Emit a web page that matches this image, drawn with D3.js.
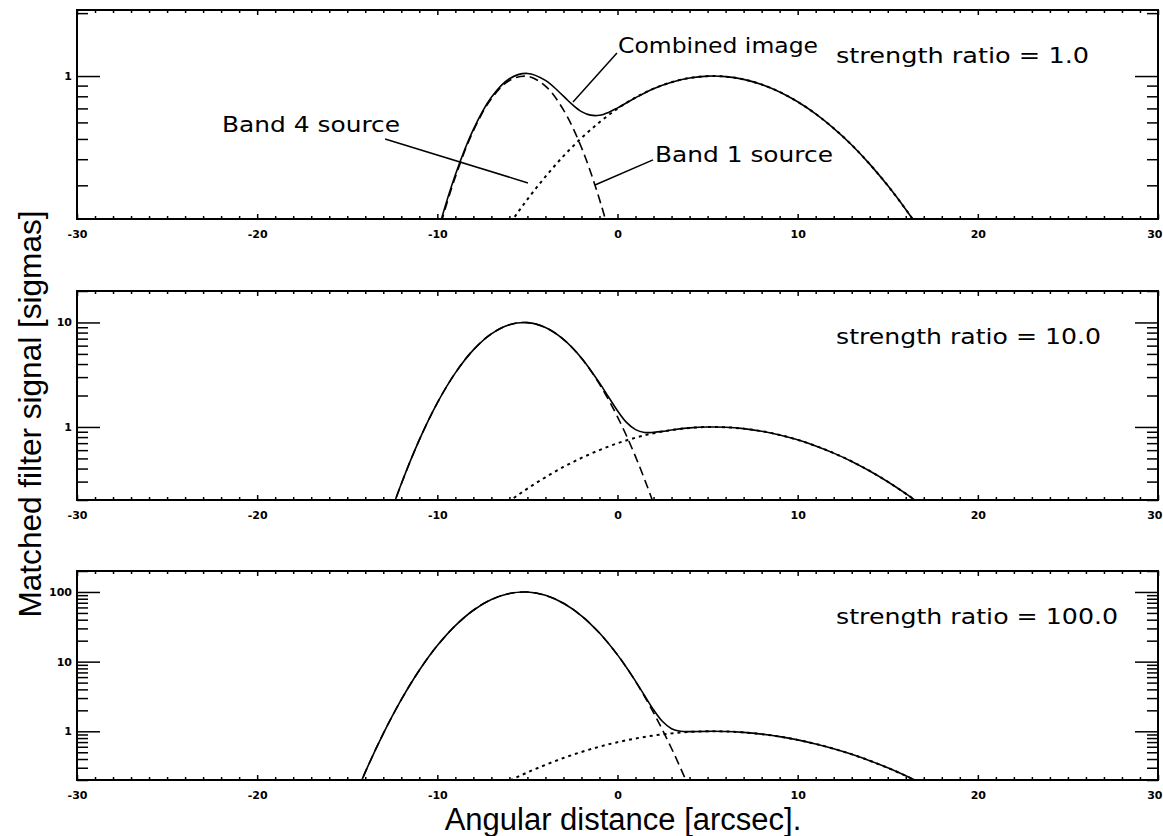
<!DOCTYPE html>
<html>
<head>
<meta charset="utf-8">
<script src="https://cdn.jsdelivr.net/npm/d3@7"></script>
<style>
  body { margin: 0; background: #fff; }
  svg { display: block; }
  .tick text { font-family: "DejaVu Sans", sans-serif; font-weight: bold; font-size: 11px; fill: #000; }
  .tick line { stroke: #000; stroke-width: 1.5; }
</style>
</head>
<body>
<svg id="chart" width="1163" height="836"></svg>
<script>
// ---- data -------------------------------------------------------------
// Angular distance axis [arcsec]
const xDomain = [-30, 30];
const xMajorTicks = [-30, -20, -10, 0, 10, 20, 30];

// Strength ratio of the Band 4 source relative to the Band 1 source, one per panel
const ratios = [1.0, 10.0, 100.0];
const ratioLabels = ["strength ratio = 1.0", "strength ratio = 10.0", "strength ratio = 100.0"];

// Vertical (log) ranges of the three panels [sigmas]
const yDomains = [[0.207, 2.07], [0.2, 20], [0.2, 200]];
const yLabelledTicks = [[1], [1, 10], [1, 10, 100]];

// Band 4 source profile for unit strength: [arcsec, sigmas]
const band4Unit = [
  [-15, 0.000618], [-14, 0.00259], [-13, 0.00928], [-12, 0.0285], [-11, 0.0752],
  [-10, 0.170], [-9, 0.329], [-8, 0.547], [-7, 0.779], [-6, 0.952], [-5, 0.997],
  [-4, 0.895], [-3, 0.689], [-2, 0.455], [-1, 0.257], [0, 0.125], [1, 0.0520],
  [2, 0.0185], [3, 0.00567], [4, 0.00149], [5, 0.000335]
];

// Band 1 source profile: [arcsec, sigmas]
const band1 = [
  [-7, 0.144], [-6, 0.195], [-5, 0.257], [-4, 0.330], [-3, 0.414], [-2, 0.505],
  [-1, 0.601], [0, 0.698], [1, 0.789], [2, 0.870], [3, 0.934], [4, 0.979],
  [5, 0.999], [6, 0.994], [7, 0.964], [8, 0.911], [9, 0.839], [10, 0.753],
  [11, 0.659], [12, 0.562], [13, 0.468], [14, 0.379], [15, 0.299], [16, 0.230],
  [17, 0.173], [18, 0.127]
];

// Combined image, one series per panel: [arcsec, sigmas]
const combinedRatio1 = [
  [-11, 0.0819], [-10, 0.177], [-9, 0.337], [-8, 0.556], [-7, 0.792], [-6, 0.971],
  [-5, 1.029], [-4, 0.953], [-3, 0.801], [-2.5, 0.729], [-2, 0.676], [-1.5, 0.650],
  [-1, 0.649], [-0.5, 0.670], [0, 0.704], [1, 0.787], [2, 0.870], [3, 0.934],
  [4, 0.979], [5, 0.999], [6, 0.994], [7, 0.964], [8, 0.911], [9, 0.839],
  [10, 0.753], [11, 0.659], [12, 0.562], [13, 0.468], [14, 0.379], [15, 0.299],
  [16, 0.230], [17, 0.173], [18, 0.127]
];
const combinedRatio10 = [
  [-13, 0.0937], [-12, 0.286], [-11, 0.753], [-10, 1.70], [-9, 3.29], [-8, 5.47],
  [-7, 7.79], [-6, 9.52], [-5, 9.97], [-4, 8.96], [-3, 6.90], [-2, 4.58],
  [-1, 2.64], [-0.5, 1.94], [0, 1.43], [0.5, 1.105], [1, 0.942], [1.5, 0.885],
  [2, 0.888], [2.5, 0.907], [3, 0.936], [4, 0.979], [5, 0.999], [6, 0.994],
  [7, 0.964], [8, 0.911], [9, 0.839], [10, 0.753], [11, 0.659], [12, 0.562],
  [13, 0.468], [14, 0.379], [15, 0.299], [16, 0.230], [17, 0.173], [18, 0.127]
];
const combinedRatio100 = [
  [-15, 0.0618], [-14, 0.259], [-13, 0.928], [-12, 2.85], [-11, 7.52], [-10, 17.0],
  [-9, 32.9], [-8, 54.7], [-7, 77.9], [-6, 95.2], [-5, 99.7], [-4, 89.5],
  [-3, 68.9], [-2, 45.5], [-1, 25.7], [0, 12.5], [0.5, 8.24], [1, 5.26],
  [1.5, 3.27], [2, 2.04], [2.5, 1.38], [3, 1.09], [3.5, 1.00], [4, 0.988],
  [5, 0.999], [6, 0.994], [7, 0.964], [8, 0.911], [9, 0.839], [10, 0.753],
  [11, 0.659], [12, 0.562], [13, 0.468], [14, 0.379], [15, 0.299], [16, 0.230],
  [17, 0.173], [18, 0.127]
];
const combinedSeries = [combinedRatio1, combinedRatio10, combinedRatio100];

// Callouts in the first panel, in data coordinates [arcsec, sigmas]
const callouts = [
  { text: "Combined image", at: [0.03, 1.289], from: [-0.03, 1.289], to: [-2.47, 0.751], width: 200 },
  { text: "Band 4 source", at: [-21.95, 0.540], from: [-12.90, 0.500], to: [-4.97, 0.308], width: 178 },
  { text: "Band 1 source", at: [2.08, 0.388], from: [1.97, 0.397], to: [-1.25, 0.301], width: 178 }
];

// ---- layout -----------------------------------------------------------
const svg = d3.select("#chart");
const plotLeft = 77, plotRight = 1158;
const panelTops = [10, 291, 571];
const panelHeight = 209;
const labelWidths = [253, 265, 282];

const x = d3.scaleLinear().domain(xDomain).range([plotLeft, plotRight]);
const xMinorTicks = d3.range(xDomain[0], xDomain[1] + 1, 1).filter(v => v % 10 !== 0);

const annotFont = '"DejaVu Sans", sans-serif';

function minorLogTicks(domain, majors) {
  const out = [];
  for (let e = -2; e <= 3; e++) {
    for (let m = 1; m <= 9; m++) {
      const v = m * Math.pow(10, e);
      if (v >= domain[0] * 0.999 && v <= domain[1] * 1.001 && !majors.includes(v)) out.push(v);
    }
  }
  return out;
}

panelTops.forEach((top, i) => {
  const bottom = top + panelHeight;
  const y = d3.scaleLog().domain(yDomains[i]).range([bottom, top]);
  const g = svg.append("g");

  const clipId = "clip" + i;
  svg.append("clipPath").attr("id", clipId)
    .append("rect").attr("x", plotLeft).attr("y", top)
    .attr("width", plotRight - plotLeft).attr("height", panelHeight);

  // x axes: bottom (labelled) and top, ticks pointing inward
  g.append("g").attr("transform", `translate(0,${bottom})`)
    .call(d3.axisBottom(x).tickValues(xMajorTicks).tickSize(-5).tickPadding(11).tickFormat(d => String(d)))
    .call(a => a.select(".domain").remove())
    // the last label sits at the window edge: keep it inside
    .call(a => a.selectAll(".tick text").filter(d => d === xDomain[1])
      .attr("text-anchor", "end").attr("x", 1162 - plotRight));
  g.append("g").attr("transform", `translate(0,${bottom})`)
    .call(d3.axisBottom(x).tickValues(xMinorTicks).tickSize(-3).tickFormat(""))
    .call(a => a.select(".domain").remove());
  g.append("g").attr("transform", `translate(0,${top})`)
    .call(d3.axisTop(x).tickValues(xMajorTicks).tickSize(-5).tickFormat(""))
    .call(a => a.select(".domain").remove());
  g.append("g").attr("transform", `translate(0,${top})`)
    .call(d3.axisTop(x).tickValues(xMinorTicks).tickSize(-3).tickFormat(""))
    .call(a => a.select(".domain").remove());

  // y axes: left (labelled) and right, log ticks pointing inward
  const majors = yLabelledTicks[i];
  const minors = minorLogTicks(yDomains[i], majors);
  g.append("g").attr("transform", `translate(${plotLeft},0)`)
    .call(d3.axisLeft(y).tickValues(majors).tickSize(-23).tickPadding(5).tickFormat(d => String(d)))
    .call(a => a.select(".domain").remove());
  g.append("g").attr("transform", `translate(${plotLeft},0)`)
    .call(d3.axisLeft(y).tickValues(minors).tickSize(-11).tickFormat(""))
    .call(a => a.select(".domain").remove());
  g.append("g").attr("transform", `translate(${plotRight},0)`)
    .call(d3.axisRight(y).tickValues(majors).tickSize(-23).tickFormat(""))
    .call(a => a.select(".domain").remove());
  g.append("g").attr("transform", `translate(${plotRight},0)`)
    .call(d3.axisRight(y).tickValues(minors).tickSize(-11).tickFormat(""))
    .call(a => a.select(".domain").remove());

  // frame
  g.append("rect").attr("x", plotLeft).attr("y", top)
    .attr("width", plotRight - plotLeft).attr("height", panelHeight)
    .attr("fill", "none").attr("stroke", "#000").attr("stroke-width", 2);

  const line = d3.line().x(d => x(d[0])).y(d => y(d[1])).curve(d3.curveCatmullRom);
  const curves = g.append("g").attr("clip-path", `url(#${clipId})`)
    .attr("fill", "none").attr("stroke", "#000");

  // Band 1 source (dotted)
  curves.append("path").attr("d", line(band1))
    .attr("stroke-width", 2).attr("stroke-dasharray", "3,4");
  // Band 4 source scaled by the strength ratio (dashed)
  const band4 = band4Unit.map(([a, v]) => [a, v * ratios[i]]);
  curves.append("path").attr("d", line(band4))
    .attr("stroke-width", 1.6).attr("stroke-dasharray", "9,5");
  // Combined image (solid)
  curves.append("path").attr("d", line(combinedSeries[i]))
    .attr("stroke-width", 1.6);

  // strength ratio label
  g.append("text").attr("x", x(12.13)).attr("y", top + 53)
    .attr("font-family", annotFont).attr("font-size", 21)
    .attr("textLength", labelWidths[i]).attr("lengthAdjust", "spacingAndGlyphs")
    .text(ratioLabels[i]);

  if (i === 0) {
    callouts.forEach(c => {
      g.append("line")
        .attr("x1", x(c.from[0])).attr("y1", y(c.from[1]))
        .attr("x2", x(c.to[0])).attr("y2", y(c.to[1]))
        .attr("stroke", "#000").attr("stroke-width", 1.5);
      g.append("text").attr("x", x(c.at[0])).attr("y", y(c.at[1]))
        .attr("font-family", annotFont).attr("font-size", 22)
        .attr("textLength", c.width).attr("lengthAdjust", "spacingAndGlyphs")
        .text(c.text);
    });
  }
});

// axis titles
svg.append("text")
  .attr("x", 623).attr("y", 830)
  .attr("text-anchor", "middle")
  .attr("font-family", '"Liberation Sans", Arial, sans-serif')
  .attr("font-size", 31)
  .text("Angular distance [arcsec].");

svg.append("text")
  .attr("transform", "translate(41,414) rotate(-90)")
  .attr("text-anchor", "middle")
  .attr("font-family", '"Liberation Sans", Arial, sans-serif')
  .attr("font-size", 32)
  .attr("textLength", 407).attr("lengthAdjust", "spacingAndGlyphs")
  .text("Matched filter signal [sigmas]");
</script>
</body>
</html>
